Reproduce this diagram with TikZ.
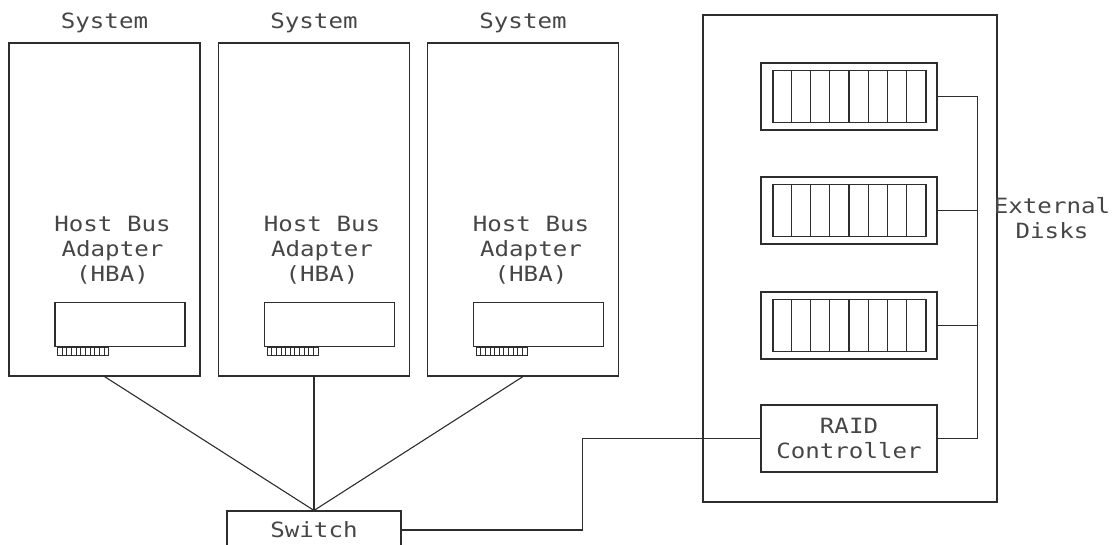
\documentclass[tikz,border=0pt]{standalone}
\usepackage{fontspec}
\newfontfamily\cadfont[FakeStretch=1.15]{DejaVu Sans Mono}
\usetikzlibrary{positioning}
\definecolor{ink}{RGB}{45,45,45}
\definecolor{inktext}{RGB}{70,70,70}

\begin{document}
\begin{tikzpicture}[x=1pt,y=-1pt,color=ink,line width=1.1pt,
    box/.style={draw,rectangle,inner sep=0pt},
    lbl/.style={font=\cadfont\fontsize{21}{25}\selectfont,text=inktext,
      align=center,inner sep=0pt}]
  \useasboundingbox (0,0) rectangle (1112,545);
  \clip (0,0) rectangle (1112,545);

  % systems with their adapters
  \foreach \i/\x in {1/104.5,2/314,3/523}{
    \node[box,minimum width=191pt,minimum height=333pt] (sys\i) at (\x,209.5) {};
    \node[lbl,above=9pt of sys\i] {System};
    \node[lbl] at ([xshift=8pt,yshift=-41pt]sys\i.center) {Host Bus\\Adapter\\(HBA)};
    \node[box,minimum width=130pt,minimum height=44pt] (hba\i)
      at ([xshift=15.5pt,yshift=-115pt]sys\i.center) {};
    \draw[line width=0.7pt] ([xshift=3pt]hba\i.south west) rectangle ++(51,8);
    \foreach \k in {1,...,10}
      \draw[line width=0.7pt] ([xshift=3pt+\k*4.64pt]hba\i.south west) -- ++(0,8);
  }

  \node[box,lbl,minimum width=174pt,minimum height=38pt] (switch) at (314,530) {Switch};
  \foreach \i in {1,2,3}
    \draw (sys\i.south) -- (switch.north);

  % disk rack
  \node[box,minimum width=294pt,minimum height=487pt] (rack) at (850,258.5) {};
  \foreach \i/\y in {1/96.5,2/210.5,3/325.5}{
    \node[box,minimum width=176pt,minimum height=67pt] (shelf\i) at (849,\y) {};
    \node[box,minimum width=153pt,minimum height=52pt] (tray\i) at (849.5,\y) {};
    \foreach \c in {1,...,7}
      \draw ([xshift=\c*19.125pt]tray\i.north west) -- ([xshift=\c*19.125pt]tray\i.south west);
  }
  \node[box,lbl,minimum width=176pt,minimum height=67pt] (raid) at (849,438.5) {RAID\\Controller};

  \draw (shelf1.east) -- ++(40,0) |- (raid.east);
  \draw (shelf2.east) -- ++(40,0);
  \draw (shelf3.east) -- ++(40,0);
  \draw (switch.east) -- ++(181,0) |- (raid.west);

  \node[lbl] (extdisks) at (1052,218) {External\\Disks};
\end{tikzpicture}
\end{document}
